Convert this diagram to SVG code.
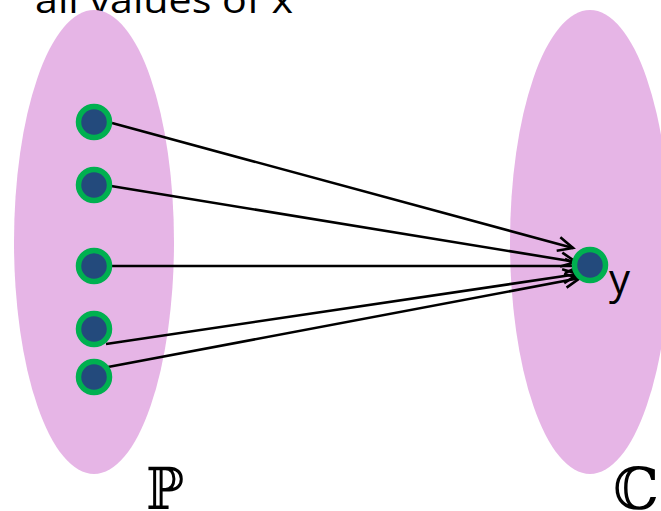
<svg xmlns="http://www.w3.org/2000/svg" width="661" height="511" viewBox="0 0 661 511">
<style>
.set{fill:#E6B5E6}
.dot{fill:#234A7C;stroke:#00B050;stroke-width:5.5}
.lbl{font-family:"Open Sans","Liberation Sans",sans-serif;fill:#000}
.ds{font-family:"DejaVu Serif","DejaVu Sans",serif;fill:#000}
.con line{stroke:#000;stroke-width:2.6;fill:none}
</style>
<defs>
<marker id="arr" markerUnits="userSpaceOnUse" markerWidth="24" markerHeight="20" viewBox="-18 -10 24 20" refX="0" refY="0" orient="auto">
<path d="M-15,-7 L0,0 L-15,7" fill="none" stroke="#000" stroke-width="2.6"/>
</marker>
</defs>
<rect width="661" height="511" fill="#fff"/>
<text class="lbl" x="35" y="13" font-size="36" textLength="258" lengthAdjust="spacingAndGlyphs">all values of x</text>
<g id="setP"><ellipse class="set" cx="94" cy="242" rx="80" ry="232"/><text class="ds" x="146" y="509" font-size="58" textLength="38" lengthAdjust="spacingAndGlyphs">ℙ</text></g>
<g id="setC"><ellipse class="set" cx="590" cy="242" rx="80" ry="232"/><text class="ds" x="613" y="509" font-size="58" textLength="46" lengthAdjust="spacingAndGlyphs">ℂ</text></g>
<g class="con" id="connectors">
<line x1="112" y1="123" x2="573" y2="248" marker-end="url(#arr)"/>
<line x1="111" y1="186" x2="576" y2="262" marker-end="url(#arr)"/>
<line x1="112" y1="266" x2="580" y2="266" marker-end="url(#arr)"/>
<line x1="106" y1="344" x2="578" y2="274" marker-end="url(#arr)"/>
<line x1="108" y1="367" x2="580" y2="278" marker-end="url(#arr)"/>
</g>
<g id="x1"><circle class="dot" cx="94" cy="122" r="15.5"/></g>
<g id="x2"><circle class="dot" cx="94" cy="185" r="15.5"/></g>
<g id="x3"><circle class="dot" cx="94" cy="266" r="15.5"/></g>
<g id="x4"><circle class="dot" cx="94" cy="329" r="15.5"/></g>
<g id="x5"><circle class="dot" cx="94" cy="377" r="15.5"/></g>
<g id="y"><circle class="dot" cx="590" cy="265" r="15.5"/><text class="lbl" x="609" y="294" font-size="42">y</text></g>
</svg>
